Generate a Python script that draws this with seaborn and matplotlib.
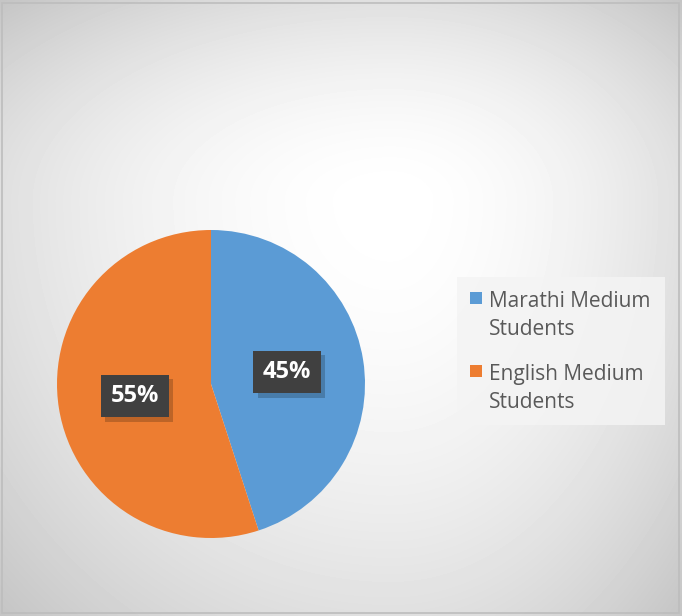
import numpy as np
import matplotlib
matplotlib.use('Agg')
import matplotlib.pyplot as plt
import matplotlib.patheffects as pe
from matplotlib.patches import Rectangle
import seaborn as sns

# Data
categories = ["Marathi Medium\nStudents", "English Medium\nStudents"]
shares = [45, 55]
colors = ["#5B9BD5", "#ED7D31"]

sns.set_theme(style="white")
plt.rcParams['font.family'] = ['Open Sans', 'DejaVu Sans']

W, H = 682, 616
fig = plt.figure(figsize=(W / 100, H / 100), dpi=100)

# grey background, lightest a bit right of the middle near the top
bg = fig.add_axes([0, 0, 1, 1])
yy, xx = np.mgrid[0:H, 0:W].astype(float)
gx, gy = 390, 200
u = np.where(xx < gx, (gx - xx) / gx, (xx - gx) / (W - gx))
v = np.where(yy < gy, (gy - yy) / gy, (yy - gy) / (H - gy))
d = np.sqrt(u ** 2 + v ** 2) / np.sqrt(2)
shade = 1 - 0.23 * np.clip(d, 0, 1) ** 1.8
bg.imshow(shade, cmap="gray", vmin=0, vmax=1, extent=[0, W, H, 0], aspect="auto")
bg.add_patch(Rectangle((2, 3), W - 5, H - 6, fill=False, edgecolor="#bdbdbd", lw=1.2))
bg.set_xlim(0, W)
bg.set_ylim(H, 0)
bg.axis("off")

# pie
cx, cy, r = 211, 384, 154
ax = fig.add_axes([(cx - r) / W, (H - cy - r) / H, 2 * r / W, 2 * r / H])
wedges, texts, autotexts = ax.pie(
    shares, colors=colors, startangle=90, counterclock=False,
    autopct="%d%%", pctdistance=0.5, radius=1,
    wedgeprops=dict(edgecolor="none", linewidth=0),
    textprops=dict(color="white", fontsize=17, fontweight="bold"),
)
ax.set_xlim(-1, 1)
ax.set_ylim(-1, 1)
ax.set_aspect("auto")
ax.axis("off")
for t in autotexts:
    t.set_bbox(dict(boxstyle="square,pad=0.4", facecolor="#404040", edgecolor="none"))
    t.get_bbox_patch().set_path_effects(
        [pe.SimplePatchShadow(offset=(3, -3), shadow_rgbFace="black", alpha=0.2), pe.Normal()])

# legend drawn by hand so the marker sits on the first line
bg.add_patch(Rectangle((457, 277), 208, 148, facecolor="#f4f4f4", edgecolor="none", alpha=0.85))
for i, (lab, col) in enumerate(zip(categories, colors)):
    y0 = 307 + i * 73
    bg.add_patch(Rectangle((470, y0 - 15), 12, 12, facecolor=col, edgecolor="none"))
    for j, line in enumerate(lab.split("\n")):
        bg.text(489, y0 + j * 28, line, fontsize=15, color="#595959",
                va="baseline", ha="left")

fig.savefig("out.png", dpi=100)
